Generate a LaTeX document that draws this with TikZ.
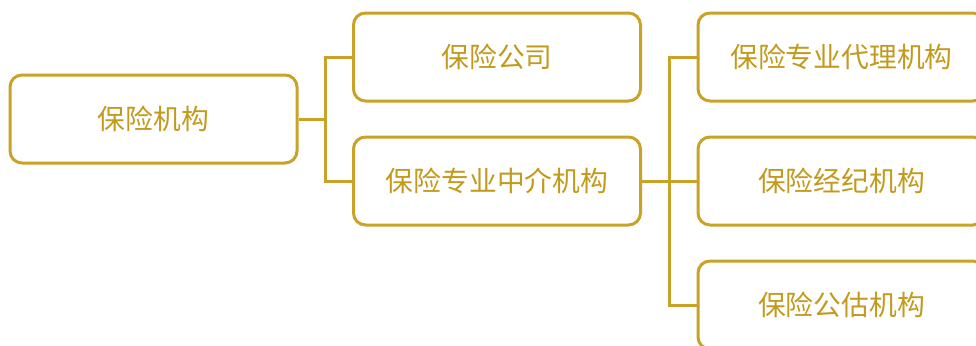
\documentclass[tikz,border=0pt]{standalone}
\usepackage{fontspec}
\setmainfont{Noto Sans CJK SC}
\usepackage{tikz}
\usetikzlibrary{positioning}

\definecolor{gold}{HTML}{C9A227}
\definecolor{goldtext}{HTML}{C29A1C}

\tikzset{
  box/.style={draw=gold, line width=0.06cm, rounded corners=0.24cm, fill=white,
    minimum width=5.74cm, minimum height=1.76cm, inner sep=0pt,
    text=goldtext, font=\fontsize{15.8}{19}\selectfont},
  link/.style={draw=gold, line width=0.06cm}
}

\begin{document}
\begin{tikzpicture}
\useasboundingbox (0,0) rectangle (19.52,-6.9);

\node[box] (root) at (3.07, -2.38) {保险机构};
\node[box] (company) at (9.94, -1.14) {保险公司};
\node[box] (agency) at (9.94, -3.62) {保险专业中介机构};
\node[box] (agent) at (16.83, -1.14) {保险专业代理机构};
\node[box] (broker) at (16.83, -3.62) {保险经纪机构};
\node[box] (assess) at (16.83, -6.10) {保险公估机构};

% first level
\coordinate (j1) at (6.5, -2.38);
\draw[link] (root.east) -- (j1);
\draw[link] (j1) |- (company.west);
\draw[link] (j1) |- (agency.west);

% second level
\coordinate (j2) at (13.38, -3.62);
\draw[link] (agency.east) -- (j2);
\foreach \n in {agent, broker, assess} {
\draw[link] (j2) |- (\n.west);
}

\end{tikzpicture}
\end{document}
